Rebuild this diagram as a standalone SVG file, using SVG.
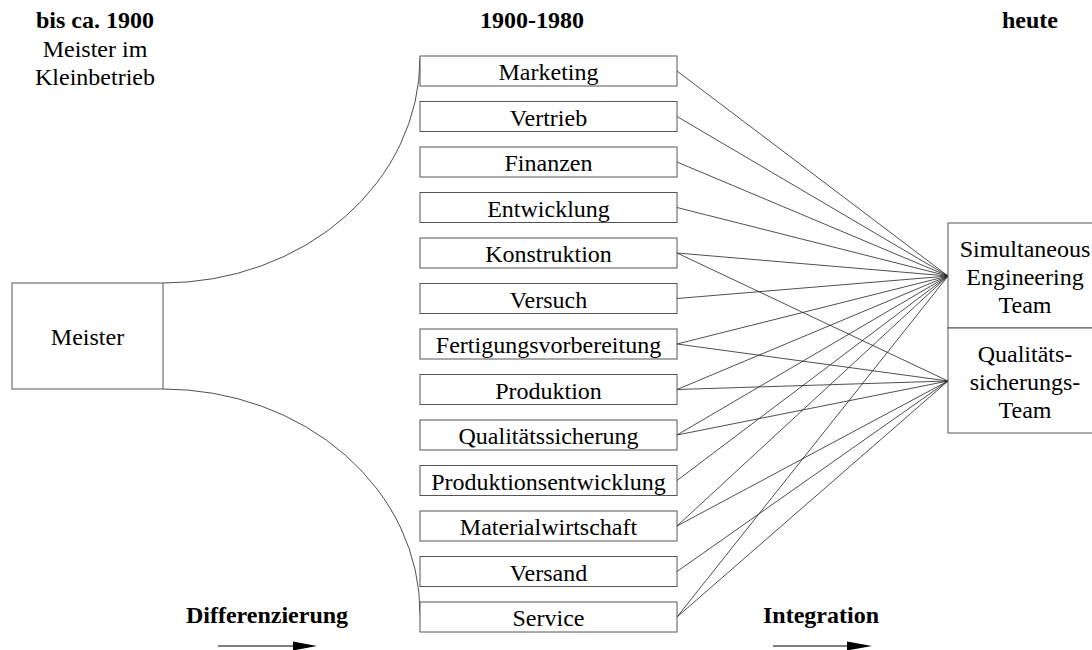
<svg xmlns="http://www.w3.org/2000/svg" width="1092" height="650" viewBox="0 0 1092 650">
<style>
text{font-family:"Liberation Serif","Times New Roman",serif;font-size:24px;fill:#000;text-anchor:middle}
.b{font-weight:bold}
.box{fill:#fff;stroke:#555;stroke-width:1}
.con{fill:none;stroke:#222;stroke-width:0.8}
.arr{stroke:#000;stroke-width:1}
</style>
<rect width="1092" height="650" fill="#fff"/>
<g id="titles">
<text class="b" x="95" y="28">bis ca. 1900</text>
<text x="95" y="57">Meister im</text>
<text x="95" y="85">Kleinbetrieb</text>
<text class="b" x="532" y="28">1900-1980</text>
<text class="b" x="1030" y="28">heute</text>
</g>
<g id="connectors">
<path class="con" d="M163,283 A257,225 0 0 0 420,58"/>
<path class="con" d="M163,389 A257,224 0 0 1 420,614"/>
<line class="con" x1="677" y1="71" x2="948" y2="276"/>
<line class="con" x1="677" y1="116.5" x2="948" y2="276"/>
<line class="con" x1="677" y1="162" x2="948" y2="276"/>
<line class="con" x1="677" y1="207.5" x2="948" y2="276"/>
<line class="con" x1="677" y1="253" x2="948" y2="276"/>
<line class="con" x1="677" y1="253" x2="948" y2="381"/>
<line class="con" x1="677" y1="298.5" x2="948" y2="276"/>
<line class="con" x1="677" y1="344" x2="948" y2="276"/>
<line class="con" x1="677" y1="344" x2="948" y2="381"/>
<line class="con" x1="677" y1="389.5" x2="948" y2="276"/>
<line class="con" x1="677" y1="389.5" x2="948" y2="381"/>
<line class="con" x1="677" y1="435" x2="948" y2="276"/>
<line class="con" x1="677" y1="435" x2="948" y2="381"/>
<line class="con" x1="677" y1="480.5" x2="948" y2="276"/>
<line class="con" x1="677" y1="526" x2="948" y2="276"/>
<line class="con" x1="677" y1="526" x2="948" y2="381"/>
<line class="con" x1="677" y1="571.5" x2="948" y2="381"/>
<line class="con" x1="677" y1="617" x2="948" y2="276"/>
<line class="con" x1="677" y1="617" x2="948" y2="381"/>
</g>
<g id="meister"><rect class="box" x="12" y="283" width="151" height="106"/><text x="87.5" y="345">Meister</text></g>
<g id="marketing"><rect class="box" x="420" y="56" width="257" height="30"/><text x="548.5" y="80">Marketing</text></g>
<g id="vertrieb"><rect class="box" x="420" y="101.5" width="257" height="30"/><text x="548.5" y="125.5">Vertrieb</text></g>
<g id="finanzen"><rect class="box" x="420" y="147" width="257" height="30"/><text x="548.5" y="171">Finanzen</text></g>
<g id="entwicklung"><rect class="box" x="420" y="192.5" width="257" height="30"/><text x="548.5" y="216.5">Entwicklung</text></g>
<g id="konstruktion"><rect class="box" x="420" y="238" width="257" height="30"/><text x="548.5" y="262">Konstruktion</text></g>
<g id="versuch"><rect class="box" x="420" y="283.5" width="257" height="30"/><text x="548.5" y="307.5">Versuch</text></g>
<g id="fertigungsvorbereitung"><rect class="box" x="420" y="329" width="257" height="30"/><text x="548.5" y="353">Fertigungsvorbereitung</text></g>
<g id="produktion"><rect class="box" x="420" y="374.5" width="257" height="30"/><text x="548.5" y="398.5">Produktion</text></g>
<g id="qualitaetssicherung"><rect class="box" x="420" y="420" width="257" height="30"/><text x="548.5" y="444">Qualitätssicherung</text></g>
<g id="produktionsentwicklung"><rect class="box" x="420" y="465.5" width="257" height="30"/><text x="548.5" y="489.5">Produktionsentwicklung</text></g>
<g id="materialwirtschaft"><rect class="box" x="420" y="511" width="257" height="30"/><text x="548.5" y="535">Materialwirtschaft</text></g>
<g id="versand"><rect class="box" x="420" y="556.5" width="257" height="30"/><text x="548.5" y="580.5">Versand</text></g>
<g id="service"><rect class="box" x="420" y="602" width="257" height="30"/><text x="548.5" y="626">Service</text></g>
<g id="se-team"><rect class="box" x="948" y="223" width="154" height="105"/>
<text x="1025" y="257">Simultaneous</text><text x="1025" y="285">Engineering</text><text x="1025" y="313">Team</text></g>
<g id="qs-team"><rect class="box" x="948" y="328" width="154" height="105"/>
<text x="1025" y="362">Qualitäts-</text><text x="1025" y="390">sicherungs-</text><text x="1025" y="418">Team</text></g>
<g id="differenzierung"><text class="b" x="267" y="623">Differenzierung</text>
<line class="arr" x1="218" y1="646" x2="296" y2="646"/><polygon points="293,641.5 317,646 293,650.5" fill="#000"/></g>
<g id="integration"><text class="b" x="821" y="623">Integration</text>
<line class="arr" x1="773" y1="646" x2="850" y2="646"/><polygon points="847,641.5 872,646 847,650.5" fill="#000"/></g>
</svg>
